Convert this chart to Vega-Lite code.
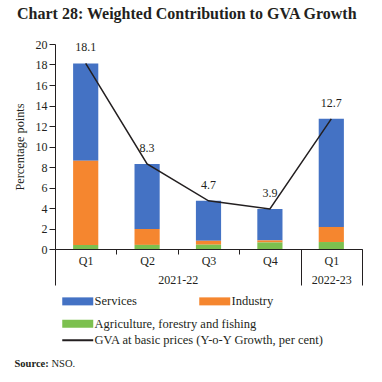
{
  "$schema": "https://vega.github.io/schema/vega-lite/v6.json",
  "autosize": "none",
  "width": 307,
  "height": 205,
  "padding": {"left": 55, "top": 44, "right": 20, "bottom": 133},
  "background": "white",
  "title": {
    "text": "Chart 28: Weighted Contribution to GVA Growth",
    "anchor": "start",
    "frame": "group",
    "dx": -38,
    "offset": 16,
    "font": "Liberation Serif",
    "fontSize": 16,
    "fontWeight": "bold",
    "color": "#231f20"
  },
  "config": {
    "view": {"stroke": null},
    "font": "Liberation Serif",
    "axis": {"labelFont": "Liberation Serif", "titleFont": "Liberation Serif", "labelColor": "#231f20", "titleColor": "#231f20", "domainColor": "#231f20", "tickColor": "#231f20", "grid": false},
    "legend": {"labelFont": "Liberation Serif", "labelColor": "#231f20"}
  },
  "layer": [
    {
      "layer": [
        {
          "data": {"values": [
            {"q": "Q1a", "sector": "Services", "value": 9.5},
            {"q": "Q1a", "sector": "Industry", "value": 8.2},
            {"q": "Q1a", "sector": "Agriculture, forestry and fishing", "value": 0.4},
            {"q": "Q2", "sector": "Services", "value": 6.35},
            {"q": "Q2", "sector": "Industry", "value": 1.55},
            {"q": "Q2", "sector": "Agriculture, forestry and fishing", "value": 0.4},
            {"q": "Q3", "sector": "Services", "value": 3.9},
            {"q": "Q3", "sector": "Industry", "value": 0.38},
            {"q": "Q3", "sector": "Agriculture, forestry and fishing", "value": 0.42},
            {"q": "Q4", "sector": "Services", "value": 3.06},
            {"q": "Q4", "sector": "Industry", "value": 0.2},
            {"q": "Q4", "sector": "Agriculture, forestry and fishing", "value": 0.64},
            {"q": "Q1b", "sector": "Services", "value": 10.55},
            {"q": "Q1b", "sector": "Industry", "value": 1.47},
            {"q": "Q1b", "sector": "Agriculture, forestry and fishing", "value": 0.68}
          ]},
          "mark": {"type": "bar"},
          "encoding": {
            "x": {
              "field": "q", "type": "nominal", "sort": null,
              "scale": {"domain": ["Q1a", "Q2", "Q3", "Q4", "Q1b"], "paddingInner": 0.59, "paddingOuter": 0.295},
              "axis": {
                "orient": "bottom",
                "title": "Source:",
                "titleFontWeight": "bold",
                "titleFontSize": 10.5,
                "titleAnchor": "start",
                "titleAlign": "left",
                "titleBaseline": "alphabetic",
                "titleX": -41,
                "titleY": 117,
                "labelAngle": 0,
                "labelFontSize": 12,
                "labelExpr": "slice(datum.value, 0, 2)",
                "tickSize": 5,
                "tickOffset": 30.7,
                "labelOffset": -30.7,
                "labelPadding": 1
              }
            },
            "y": {
              "field": "value", "type": "quantitative", "aggregate": "sum", "stack": "zero",
              "scale": {"domain": [0, 20], "nice": false},
              "axis": {"title": "Percentage points", "titleFontSize": 12.3, "titleFontWeight": "normal", "titlePadding": 9, "labelFontSize": 12, "values": [0, 2, 4, 6, 8, 10, 12, 14, 16, 18, 20], "tickCount": 11, "labelOverlap": false, "tickSize": 6, "labelPadding": 2}
            },
            "color": {
              "field": "sector", "type": "nominal",
              "scale": {"domain": ["Services", "Industry", "Agriculture, forestry and fishing"], "range": ["#4472C4", "#F5862F", "#7CC04F"]},
              "legend": {
                "orient": "none", "legendX": 5, "legendY": 251,
                "title": null, "direction": "horizontal",
                "values": ["Services", "Industry"],
                "columnPadding": 60,
                "symbolType": "M-1,-1H6.75V1H-1Z", "symbolSize": 64, "symbolStrokeWidth": 0,
                "labelFontSize": 12.5, "labelOffset": 22, "labelLimit": 400
              }
            },
            "order": {"field": "sector", "sort": "ascending"}
          }
        },
        {
          "data": {"name": "gva", "values": [
            {"q": "Q1a", "gva": 18.1, "series": "GVA at basic prices (Y-o-Y Growth, per cent)"},
            {"q": "Q2", "gva": 8.3, "series": "GVA at basic prices (Y-o-Y Growth, per cent)"},
            {"q": "Q3", "gva": 4.7, "series": "GVA at basic prices (Y-o-Y Growth, per cent)"},
            {"q": "Q4", "gva": 3.9, "series": "GVA at basic prices (Y-o-Y Growth, per cent)"},
            {"q": "Q1b", "gva": 12.7, "series": "GVA at basic prices (Y-o-Y Growth, per cent)"}
          ]},
          "mark": {"type": "line", "strokeWidth": 1.5},
          "encoding": {
            "x": {"field": "q", "type": "nominal", "sort": null},
            "y": {"field": "gva", "type": "quantitative",
              "axis": {"title": "Percentage points", "titleFontSize": 12.3, "titleFontWeight": "normal", "titlePadding": 9, "labelFontSize": 12, "values": [0, 2, 4, 6, 8, 10, 12, 14, 16, 18, 20], "tickCount": 11, "labelOverlap": false, "tickSize": 6, "labelPadding": 2}},
            "stroke": {
              "field": "series", "type": "nominal",
              "scale": {"domain": ["Agriculture, forestry and fishing", "GVA at basic prices (Y-o-Y Growth, per cent)"], "range": ["#7CC04F", "#231f20"]},
              "legend": {
                "orient": "none", "legendX": 5, "legendY": 273.5, "title": null,
                "direction": "vertical", "rowPadding": 3.5,
                "symbolType": "M-1,0H6.75", "symbolSize": 64, "symbolStrokeWidth": 2,
                "labelFontSize": 12.5, "labelOffset": 22, "labelLimit": 400,
                "encode": {
                  "symbols": {
                    "update": {
                      "shape": {"signal": "datum.value == 'Agriculture, forestry and fishing' ? 'M-1,-1H6.75V1H-1Z' : 'M-1,0H6.75'"},
                      "fill": {"signal": "datum.value == 'Agriculture, forestry and fishing' ? '#7CC04F' : 'transparent'"},
                      "strokeWidth": {"signal": "datum.value == 'Agriculture, forestry and fishing' ? 0 : 2"}
                    }
                  }
                }
              }
            }
          }
        },
        {
          "data": {"name": "gva"},
          "mark": {"type": "text", "dy": -16, "fontSize": 12, "color": "#231f20"},
          "encoding": {
            "x": {"field": "q", "type": "nominal", "sort": null},
            "y": {"field": "gva", "type": "quantitative",
              "axis": {"title": "Percentage points", "titleFontSize": 12.3, "titleFontWeight": "normal", "titlePadding": 9, "labelFontSize": 12, "values": [0, 2, 4, 6, 8, 10, 12, 14, 16, 18, 20], "tickCount": 11, "labelOverlap": false, "tickSize": 6, "labelPadding": 2}},
            "text": {"field": "gva", "type": "quantitative", "format": ".1f"}
          }
        }
      ]
    },
    {
      "data": {"values": [
        {"year": "2021-22", "mid": 2},
        {"year": "2022-23", "mid": 4.5}
      ]},
      "mark": {"type": "point", "opacity": 0},
      "encoding": {
        "x": {
          "field": "mid", "type": "quantitative",
          "scale": {"domain": [0, 5], "nice": false, "zero": false},
          "axis": {
            "orient": "bottom",
            "values": [0, 2, 4, 4.5, 5],
            "labelExpr": "datum.value == 2 ? '2021-22' : datum.value == 4.5 ? '2022-23' : ''",
            "domain": false,
            "tickSize": 36,
            "tickOpacity": {"condition": {"test": "datum.value == 2 || datum.value == 4.5", "value": 0}, "value": 1},
            "labelPadding": -11,
            "labelFontSize": 12,
            "title": "NSO.",
            "titleFontWeight": "normal",
            "titleFontSize": 10.5,
            "titleAnchor": "start",
            "titleAlign": "left",
            "titleBaseline": "alphabetic",
            "titleX": -4,
            "titleY": 117
          }
        }
      }
    }
  ],
  "resolve": {"scale": {"x": "independent"}, "axis": {"x": "independent"}}
}
